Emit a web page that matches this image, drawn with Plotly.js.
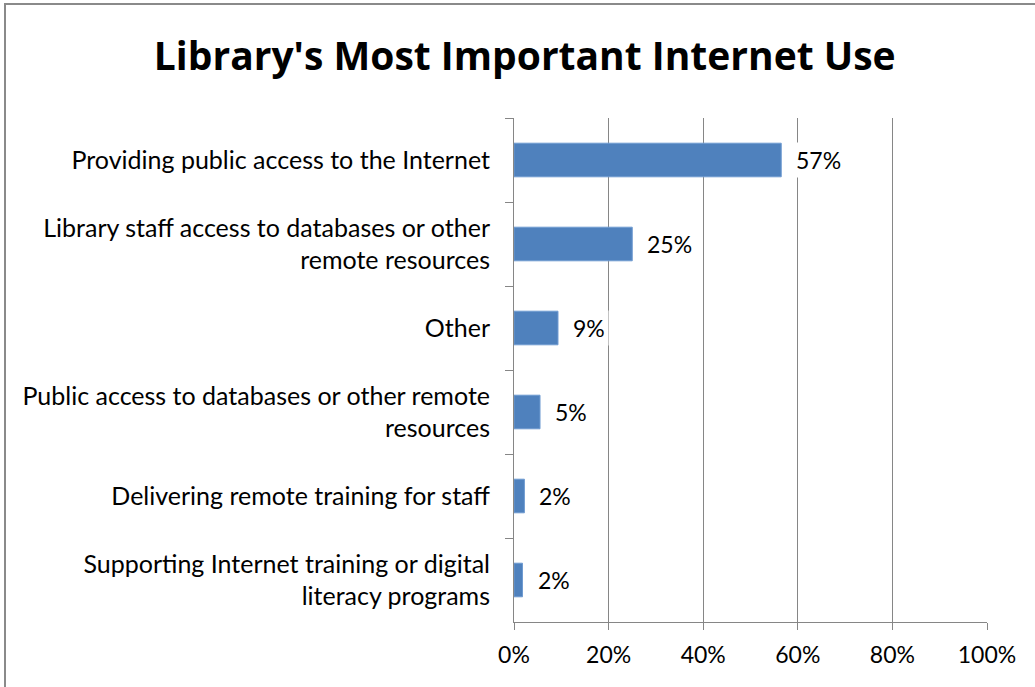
<!DOCTYPE html>
<html><head><meta charset="utf-8">
<script src="https://cdn.plot.ly/plotly-3.0.1.min.js"></script>
<style>
html,body{margin:0;padding:0;background:#fff;overflow:hidden}
#chart{position:absolute;left:0;top:0;width:1035px;height:687px}
</style></head>
<body>
<div id="chart"></div>
<script>
const categories = [
  "Providing public access to the Internet",
  "Library staff access to databases or other<br>remote resources",
  "Other",
  "Public access to databases or other remote<br>resources",
  "Delivering remote training for staff",
  "Supporting Internet training or digital<br>literacy programs"
];
const values = [0.565, 0.25, 0.093, 0.055, 0.022, 0.018];
const valueLabels = ["57%", "25%", "9%", "5%", "2%", "2%"];
const xTickVals = [0, 0.2, 0.4, 0.6, 0.8, 1.0];
const xTickText = ["0%", "20%", "40%", "60%", "80%", "100%"];

const font = "Lato, 'Open Sans', sans-serif";
const titleFont = "'Open Sans', Lato, sans-serif";
const grid = "#868686";

const W = 1035, H = 687;
const M = {l: 514, r: 48, t: 118, b: 65, pad: 0};
const pw = W - M.l - M.r, ph = H - M.t - M.b;
const px2x = p => (p - M.l) / pw;
const px2y = p => (H - M.b - p) / ph;

const trace = {
  type: "bar", orientation: "h",
  x: values, y: categories,
  marker: {color: "#4F81BD", line: {color: "#6f9bd1", width: 1}},
  width: 0.4, hoverinfo: "none"
};

const annotations = values.map((v, i) => ({
  x: v, y: categories[i], xref: "x", yref: "y",
  text: valueLabels[i], showarrow: false,
  xanchor: "left", xshift: 11,
  bgcolor: "#ffffff", borderpad: 3,
  font: {family: font, size: 23, color: "#000"}
}));

const borderShapes = [
  {type: "line", xref: "paper", yref: "paper", x0: px2x(5), x1: px2x(5), y0: px2y(3), y1: px2y(H + 5),
   line: {color: "#8a8a8a", width: 2}},
  {type: "line", xref: "paper", yref: "paper", x0: px2x(4), x1: px2x(W + 5), y0: px2y(4), y1: px2y(4),
   line: {color: "#8a8a8a", width: 2}}
];

const layout = {
  width: W, height: H,
  margin: M,
  paper_bgcolor: "#ffffff", plot_bgcolor: "rgba(0,0,0,0)",
  showlegend: false,
  title: {text: "<b>Library's Most Important Internet Use</b>", x: 0.507, xanchor: "center", y: 0.918, yanchor: "middle",
          font: {family: titleFont, size: 39, color: "#000"}},
  xaxis: {range: [0, 1], tickvals: xTickVals, ticktext: xTickText,
          showgrid: true, gridcolor: grid, gridwidth: 1,
          showline: true, linecolor: grid, linewidth: 1,
          ticks: "outside", ticklen: 7, tickcolor: grid,
          zeroline: false, fixedrange: true, ticklabelstandoff: 5,
          tickfont: {family: font, size: 23, color: "#000"}},
  yaxis: {autorange: "reversed", type: "category",
          showline: true, linecolor: grid, linewidth: 1,
          ticks: "outside", ticklen: 8, tickcolor: grid, tickson: "boundaries",
          showgrid: false, zeroline: false, fixedrange: true,
          ticklabelstandoff: 18,
          tickfont: {family: font, size: 25, color: "#000"}},
  annotations: annotations,
  shapes: borderShapes,
  bargap: 0.6
};

Plotly.newPlot("chart", [trace], layout, {displayModeBar: false, staticPlot: true});
</script>
</body></html>
